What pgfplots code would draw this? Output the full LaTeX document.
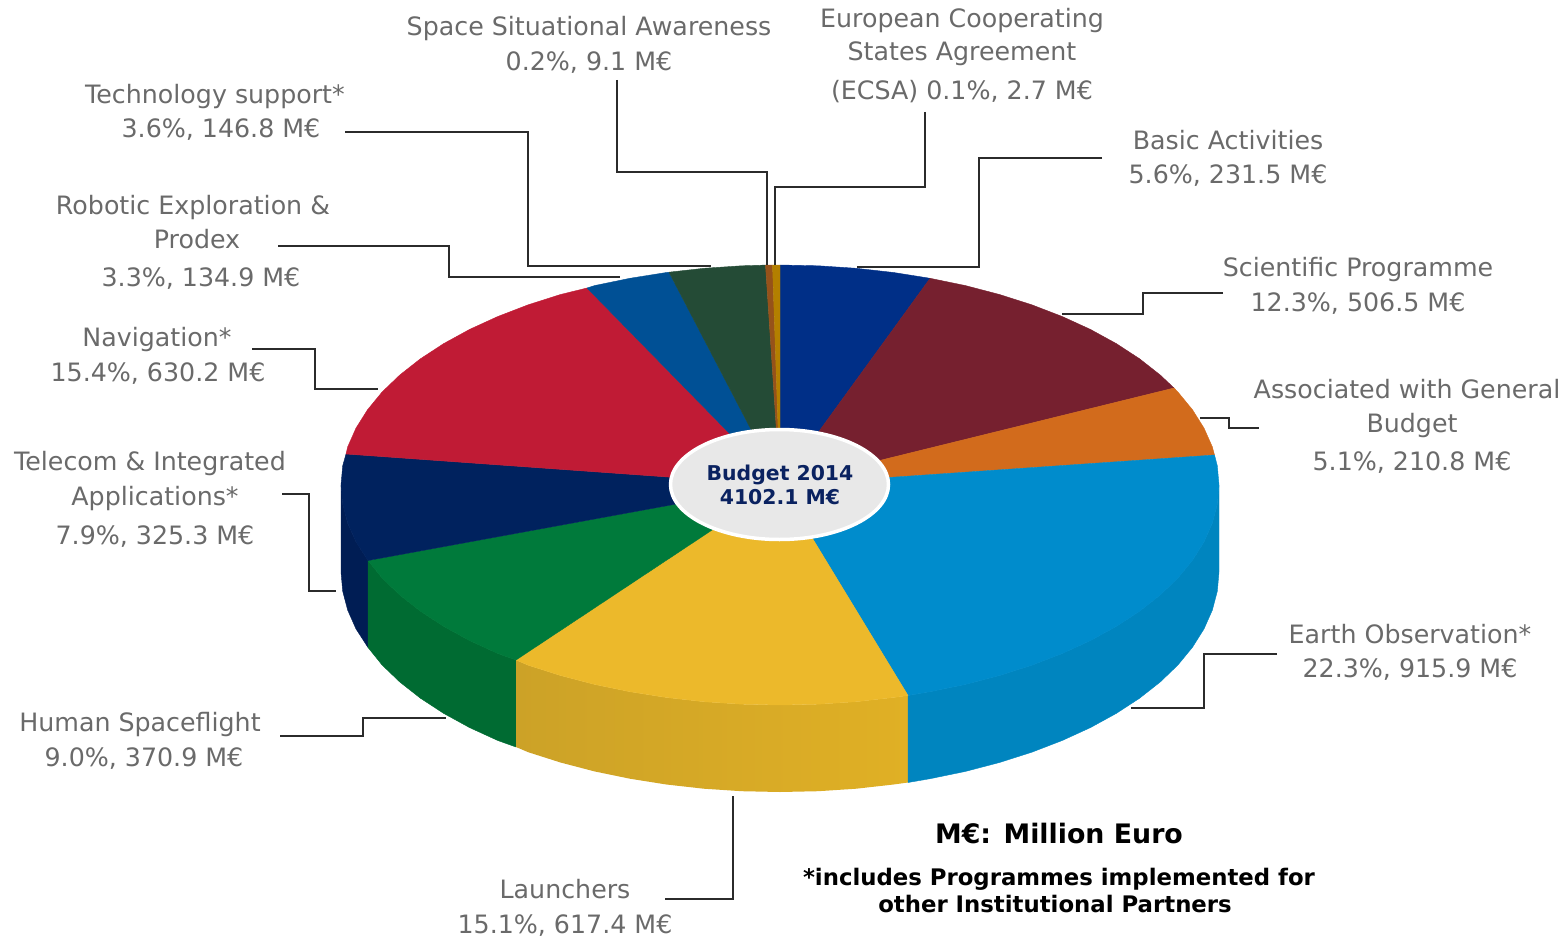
\documentclass[border=0pt]{standalone}
\usepackage{fontspec}
\setmainfont{DejaVu Sans}
\usepackage{pgfplots}
\pgfplotsset{compat=1.18}
\definecolor{basic}{HTML}{002F87}
\definecolor{science}{HTML}{76202F}
\definecolor{assoc}{HTML}{D26B1C}
\definecolor{earth}{HTML}{008CCC}
\definecolor{earthwall}{HTML}{0085BF}
\definecolor{launch}{HTML}{ECB92B}
\definecolor{launchL}{HTML}{CCA227}
\definecolor{launchR}{HTML}{E0B025}
\definecolor{human}{HTML}{007A3B}
\definecolor{humanwall}{HTML}{006B32}
\definecolor{telecom}{HTML}{00225E}
\definecolor{telecomwall}{HTML}{001D54}
\definecolor{navig}{HTML}{C01B35}
\definecolor{robotic}{HTML}{005095}
\definecolor{techno}{HTML}{244B36}
\definecolor{ssa}{HTML}{96521A}
\definecolor{ecsa}{HTML}{B37F00}
\definecolor{labelgrey}{HTML}{6A6A6A}
\definecolor{leader}{HTML}{2B2B2B}
\definecolor{hub}{HTML}{E8E8E8}
\definecolor{hubtext}{HTML}{0A2260}
% one line of a slice label, centred on x with its baseline on y
\newcommand{\lbl}[3]{\node[anchor=base,inner sep=0pt,yshift=0.7pt,text=labelgrey,font=\fontsize{25.3}{29}\selectfont] at (axis cs:#1,#2) {#3};}
\begin{document}
\begin{tikzpicture}
\useasboundingbox (0,0) rectangle (1565pt,939pt);
\begin{axis}[
  at={(0,0)}, anchor=south west,
  scale only axis, width=1565pt, height=939pt,
  xmin=0, xmax=1565, ymin=0, ymax=939,
  y dir=reverse, hide axis, clip=false, no markers,
  seg/.style={line width=0.4pt, line join=round},
  lead/.style={draw=leader, line width=1.8pt, line join=miter, fill=none},
]
% side walls of the disc
\addplot[seg, fill=telecomwall, draw=telecomwall] coordinates {(341,485)(342.7,504.2)(347.7,523.2)(356,541.9)(368,560.5)(368,647.5)(356,628.9)(347.7,610.2)(342.7,591.2)(341,572)} -- cycle;
\addplot[seg, fill=humanwall, draw=humanwall] coordinates {(368,560.5)(382.1,578)(399.8,595)(420.4,611.2)(443.7,626.4)(469.6,640.6)(497.8,653.5)(516,660)(516,747)(497.8,740.5)(469.6,727.6)(443.7,713.4)(420.4,698.2)(399.8,682)(382.1,665)(368,647.5)} -- cycle;
\addplot[left color=launchL, right color=launchR, draw=none] coordinates {(516,660)(528.2,665.2)(560.5,675.5)(594.5,684.4)(629.9,691.7)(666.4,697.5)(703.8,701.7)(741.7,704.2)(780,705)(818.3,704.2)(856.2,701.7)(893.6,697.5)(908,695.5)(908,782.5)(893.6,784.5)(856.2,788.7)(818.3,791.2)(780,792)(741.7,791.2)(703.8,788.7)(666.4,784.5)(629.9,778.7)(594.5,771.4)(560.5,762.5)(528.2,752.2)(516,747)} -- cycle;
\addplot[seg, fill=earthwall, draw=earthwall] coordinates {(908,695.5)(930.1,691.7)(965.5,684.4)(999.5,675.5)(1031.8,665.2)(1062.2,653.5)(1090.4,640.6)(1116.3,626.4)(1139.6,611.2)(1160.2,595)(1177.9,578)(1192.5,560.2)(1204,541.9)(1212.3,523.2)(1217.3,504.2)(1219,485)(1219,572)(1217.3,591.2)(1212.3,610.2)(1204,628.9)(1192.5,647.2)(1177.9,665)(1160.2,682)(1139.6,698.2)(1116.3,713.4)(1090.4,727.6)(1062.2,740.5)(1031.8,752.2)(999.5,762.5)(965.5,771.4)(930.1,778.7)(908,782.5)} -- cycle;
% top face, clockwise from twelve o'clock
% Basic Activities 5.6%
\addplot[seg, fill=basic, draw=basic] coordinates {(780,485)(780,265)(818.3,265.8)(856.2,268.3)(893.6,272.5)(930.1,278.3)} -- cycle;
% Scientific Programme 12.3%
\addplot[seg, fill=science, draw=science] coordinates {(780,485)(930.1,278.3)(965.5,285.6)(999.5,294.5)(1031.8,304.8)(1062.2,316.5)(1090.4,329.4)(1116.3,343.6)(1139.6,358.8)(1160.2,375)(1174,388)} -- cycle;
% Associated with General Budget 5.1%
\addplot[seg, fill=assoc, draw=assoc] coordinates {(780,485)(1174,388)(1177.9,392)(1192.5,409.8)(1204,428.1)(1212.3,446.8)(1214.5,455)} -- cycle;
% Earth Observation 22.3%
\addplot[seg, fill=earth, draw=earth] coordinates {(780,485)(1214.5,455)(1217.3,465.8)(1219,485)(1217.3,504.2)(1212.3,523.2)(1204,541.9)(1192.5,560.2)(1177.9,578)(1160.2,595)(1139.6,611.2)(1116.3,626.4)(1090.4,640.6)(1062.2,653.5)(1031.8,665.2)(999.5,675.5)(965.5,684.4)(930.1,691.7)(908,695.5)} -- cycle;
% Launchers 15.1%
\addplot[seg, fill=launch, draw=launch] coordinates {(780,485)(908,695.5)(893.6,697.5)(856.2,701.7)(818.3,704.2)(780,705)(741.7,704.2)(703.8,701.7)(666.4,697.5)(629.9,691.7)(594.5,684.4)(560.5,675.5)(528.2,665.2)(516,660)} -- cycle;
% Human Spaceflight 9.0%
\addplot[seg, fill=human, draw=human] coordinates {(780,485)(516,660)(497.8,653.5)(469.6,640.6)(443.7,626.4)(420.4,611.2)(399.8,595)(382.1,578)(368,560.5)} -- cycle;
% Telecom & Integrated Applications 7.9%
\addplot[seg, fill=telecom, draw=telecom] coordinates {(780,485)(368,560.5)(356,541.9)(347.7,523.2)(342.7,504.2)(341,485)(342.7,465.8)(346,454)} -- cycle;
% Navigation 15.4%
\addplot[seg, fill=navig, draw=navig] coordinates {(780,485)(346,454)(347.7,446.8)(356,428.1)(367.5,409.8)(382.1,392)(399.8,375)(420.4,358.8)(443.7,343.6)(469.6,329.4)(497.8,316.5)(528.2,304.8)(560.5,294.5)(587,288)} -- cycle;
% Robotic Exploration & Prodex 3.3%
\addplot[seg, fill=robotic, draw=robotic] coordinates {(780,485)(587,288)(594.5,285.6)(629.9,278.3)(666.4,272.5)(669,272.2)} -- cycle;
% Technology support 3.6%
\addplot[seg, fill=techno, draw=techno] coordinates {(780,485)(669,272.2)(703.8,268.3)(741.7,265.8)(765.5,265.1)} -- cycle;
% Space Situational Awareness 0.2%
\addplot[seg, fill=ssa, draw=ssa] coordinates {(780,485)(765.5,265.1)(772.5,265)} -- cycle;
% European Cooperating States Agreement 0.1%
\addplot[seg, fill=ecsa, draw=ecsa] coordinates {(780,485)(772.5,265)(780,265)} -- cycle;
% central hub
\draw[fill=hub, draw=white, line width=3.5pt] (axis cs:779.5,484.5) ellipse [x radius=109, y radius=55];
% leader lines
\addplot[lead] coordinates {(345,132)(528,132)(528,266)(711,266)};
\addplot[lead] coordinates {(617,80)(617,172)(767,172)(767,265)};
\addplot[lead] coordinates {(925,112)(925,187)(775,187)(775,265)};
\addplot[lead] coordinates {(1102,158)(979,158)(979,267)(857,267)};
\addplot[lead] coordinates {(1223,293)(1143,293)(1143,314)(1062,314)};
\addplot[lead] coordinates {(1200,418)(1229,418)(1229,428)(1259,428)};
\addplot[lead] coordinates {(1277,654)(1204,654)(1204,708)(1131,708)};
\addplot[lead] coordinates {(733,796)(733,899)(665,899)};
\addplot[lead] coordinates {(280,736)(363,736)(363,718)(446,718)};
\addplot[lead] coordinates {(282,494)(309,494)(309,591)(336,591)};
\addplot[lead] coordinates {(252,349)(315,349)(315,389)(378,389)};
\addplot[lead] coordinates {(278,246)(449,246)(449,277)(620,277)};
% slice labels
\lbl{589}{36}{Space Situational Awareness}
\lbl{589}{71}{0.2\%, 9.1 M€}
\lbl{962}{28}{European Cooperating}
\lbl{962}{61}{States Agreement}
\lbl{962}{100}{(ECSA) 0.1\%, 2.7 M€}
\lbl{1228}{150}{Basic Activities}
\lbl{1228}{184}{5.6\%, 231.5 M€}
\lbl{1358}{277}{Scientific Programme}
\lbl{1358}{312}{12.3\%, 506.5 M€}
\lbl{1407}{399}{Associated with General}
\lbl{1412}{433}{Budget}
\lbl{1412}{471}{5.1\%, 210.8 M€}
\lbl{1410}{644}{Earth Observation*}
\lbl{1410}{678}{22.3\%, 915.9 M€}
\lbl{565}{899}{Launchers}
\lbl{565}{934}{15.1\%, 617.4 M€}
\lbl{140}{732}{Human Spaceflight}
\lbl{144}{767}{9.0\%, 370.9 M€}
\lbl{150}{471}{Telecom \& Integrated}
\lbl{155}{506}{Applications*}
\lbl{155}{545}{7.9\%, 325.3 M€}
\lbl{157}{347}{Navigation*}
\lbl{158}{382}{15.4\%, 630.2 M€}
\lbl{193}{215}{Robotic Exploration \&}
\lbl{197}{249}{Prodex}
\lbl{201}{287}{3.3\%, 134.9 M€}
\lbl{215}{104.5}{Technology support*}
\lbl{221}{138.5}{3.6\%, 146.8 M€}
% hub text and footnotes
\node[anchor=base,inner sep=0pt,text=hubtext,font=\fontsize{20.4}{24}\selectfont\bfseries] at (axis cs:780,480.5) {Budget 2014};
\node[anchor=base,inner sep=0pt,text=hubtext,font=\fontsize{20.4}{24}\selectfont\bfseries] at (axis cs:780,504.5) {4102.1 M€};
\node[anchor=base,inner sep=0pt,text=black,font=\fontsize{26.8}{30}\selectfont\bfseries] at (axis cs:1059,843) {M€: Million Euro};
\node[anchor=base,inner sep=0pt,text=black,font=\fontsize{22.8}{26}\selectfont\bfseries] at (axis cs:1059,885) {*includes Programmes implemented for};
\node[anchor=base,inner sep=0pt,text=black,font=\fontsize{22.8}{26}\selectfont\bfseries] at (axis cs:1055,912) {other Institutional Partners};
\end{axis}
\end{tikzpicture}
\end{document}
